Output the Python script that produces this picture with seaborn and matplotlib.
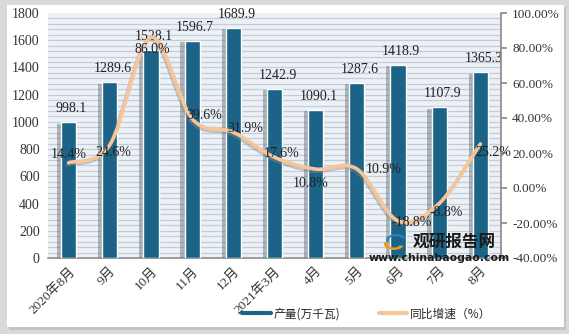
import numpy as np
import pandas as pd
import matplotlib
matplotlib.use("Agg")
import matplotlib.pyplot as plt
import seaborn as sns
from matplotlib.path import Path
from matplotlib.patches import PathPatch, Rectangle, Wedge
from matplotlib.lines import Line2D
import matplotlib.patheffects as pe

categories = ["2020年8月", "9月", "10月", "11月", "12月", "2021年3月", "4月", "5月", "6月", "7月", "8月"]
output = [998.1, 1289.6, 1528.1, 1596.7, 1689.9, 1242.9, 1090.1, 1287.6, 1418.9, 1107.9, 1365.3]
growth = [14.4, 24.6, 86.0, 39.6, 31.9, 17.6, 10.8, 10.9, -18.8, -8.8, 25.2]
bar_name = "产量(万千瓦)"
line_name = "同比增速（%）"

# label offsets in pixels (dx, dy) for growth labels
g_off = [(0, 8), (4, -8), (1, -12), (12, 3), (12, 4), (7, 4), (-5, -14), (27, -1), (14, -2), (7, -9), (13, -9)]

FONT = ["Liberation Serif", "Noto Sans CJK SC", "DejaVu Sans"]
sns.set_theme(style="white")
plt.rcParams["font.family"] = FONT

BAR = "#1B6387"
LINE = "#F8C49A"

fig = plt.figure(figsize=(5.69, 3.34), dpi=100)
fig.patch.set_facecolor("#D9D9D9")
# white panel with shadow
fig.patches.append(Rectangle((9 / 569, 1 - 330 / 334), 557 / 569, 323 / 334, transform=fig.transFigure,
                             facecolor="#C4C4C4", edgecolor="none", zorder=-2))
fig.patches.append(Rectangle((7 / 569, 1 - 327 / 334), 557 / 569, 322 / 334, transform=fig.transFigure,
                             facecolor="white", edgecolor="none", zorder=-1))

ax = fig.add_axes([48 / 569, 1 - 258 / 334, 453 / 569, 245 / 334])
ax.set_facecolor("#EBF1F6")
df = pd.DataFrame({"cat": categories, "val": output})
sns.barplot(data=df, x="cat", y="val", color=BAR, width=0.37, saturation=1, ax=ax, zorder=3,
            edgecolor="white", linewidth=1.0)
for p in ax.patches:
    p.set_path_effects([pe.SimplePatchShadow(offset=(-3, -1), shadow_rgbFace="#5E6A73", alpha=0.45), pe.Normal()])

ax.set_xlim(-0.5, 10.5)
ax.set_ylim(0, 1800)
ax.set_yticks(np.arange(0, 1801, 200))
for yv in np.arange(40, 1800, 40):
    ax.axhline(yv, color="#C5CCD3", lw=0.9, zorder=1)
ax.set_xlabel("")
ax.set_ylabel("")
for s in ["top", "right", "left"]:
    ax.spines[s].set_visible(False)
ax.spines["bottom"].set_color("#8C8C8C")
ax.spines["bottom"].set_linewidth(1.2)
ax.tick_params(axis="y", length=0, labelsize=10, colors="#333333", pad=6)
ax.tick_params(axis="x", length=0, labelsize=9.5, colors="#333333", pad=5)
ax.set_xticks(range(len(categories)))
ax.set_xticklabels(categories, rotation=45, ha="right", rotation_mode="anchor")

for i, v in enumerate(output):
    ax.annotate(f"{v:.1f}", (i, v), xytext=(3, 7), textcoords="offset pixels",
                ha="center", va="bottom", fontsize=10, color="#222222", zorder=6)

ax2 = ax.twinx()
ax2.set_ylim(-40, 100)
ax2.set_yticks(np.arange(-40, 101, 20))
ax2.set_yticklabels([f"{t:.2f}%" for t in np.arange(-40, 101, 20)])
for s in ["top", "left", "bottom"]:
    ax2.spines[s].set_visible(False)
ax2.spines["right"].set_color("#8C8C8C")
ax2.tick_params(axis="y", direction="out", length=4, color="#8C8C8C", labelsize=9.5, colors="#333333", pad=4)
ax2.grid(False)

# smooth curve through the points (Catmull-Rom as cubic Bezier)
xs = np.arange(len(growth), dtype=float)
ys = np.array(growth, dtype=float)
verts = [(xs[0], ys[0])]
codes = [Path.MOVETO]
n = len(xs)
for i in range(n - 1):
    p0 = np.array([xs[max(i - 1, 0)], ys[max(i - 1, 0)]])
    p1 = np.array([xs[i], ys[i]])
    p2 = np.array([xs[i + 1], ys[i + 1]])
    p3 = np.array([xs[min(i + 2, n - 1)], ys[min(i + 2, n - 1)]])
    c1 = p1 + (p2 - p0) / 6.0
    c2 = p2 - (p3 - p1) / 6.0
    verts += [tuple(c1), tuple(c2), tuple(p2)]
    codes += [Path.CURVE4] * 3
curve = PathPatch(Path(verts, codes), facecolor="none", edgecolor=LINE, lw=2.6, zorder=5,
                  capstyle="round", joinstyle="round")
curve.set_path_effects([pe.SimpleLineShadow(offset=(-1, -1.5), shadow_color="#8A8A8A", alpha=0.45), pe.Normal()])
ax2.add_patch(curve)

for i, v in enumerate(growth):
    dx, dy = g_off[i]
    ax2.annotate(f"{v:.1f}%", (i, v), xytext=(dx, dy), textcoords="offset pixels",
                 ha="center", va="center", fontsize=10, color="#222222", zorder=7)

# watermark
def fxy(px, py):
    return (px / 569, 1 - py / 334)

fig.patches.append(Wedge(fxy(396, 240), 10 / 569, 20, 200, width=3 / 569, transform=fig.transFigure,
                         facecolor="#2A86C4", edgecolor="none", zorder=8))
fig.patches.append(Wedge(fxy(394, 244), 10 / 569, 160, 340, width=4 / 569, transform=fig.transFigure,
                         facecolor="#F29A1F", edgecolor="none", zorder=8))
fig.text(454 / 569, 1 - 242 / 334, "观研报告网", fontsize=12, fontweight="bold", color="#1A1A1A",
         ha="center", va="center", family=["Noto Sans CJK SC"], zorder=9)
fig.text(439 / 569, 1 - 258 / 334, "www.chinabaogao.com", fontsize=7.8, fontweight="bold", color="#1A1A1A",
         ha="center", va="center", family=["DejaVu Sans"], zorder=9)

handles = [Line2D([0], [0], color=BAR, lw=3), Line2D([0], [0], color=LINE, lw=3)]
fig.legend(handles, [bar_name, line_name], loc="center", bbox_to_anchor=(367 / 569, 1 - 314 / 334),
           ncol=2, frameon=False, handlelength=2.4, columnspacing=3.2, handletextpad=0.3,
           prop={"family": ["Noto Sans CJK SC"], "size": 8.5})

fig.savefig("out.png", dpi=100, facecolor=fig.get_facecolor())
